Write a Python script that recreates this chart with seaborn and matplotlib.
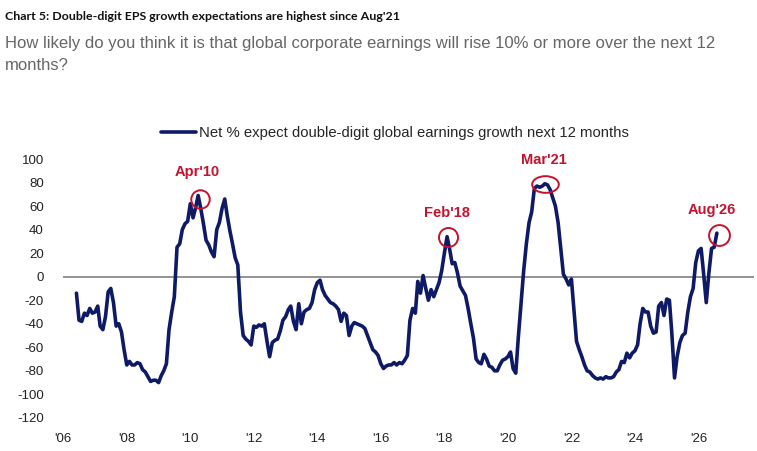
import matplotlib
matplotlib.use("Agg")
import matplotlib.pyplot as plt
import matplotlib.dates as mdates
import matplotlib.transforms as mtransforms
from matplotlib.path import Path
import seaborn as sns
import pandas as pd

# Net % expecting double-digit global EPS growth, monthly
start_month = "2006-06-01"
y2006 = [-14, -37, -38, -31, -33, -27, -31]
y2007 = [-30, -25, -42, -45, -34, -13, -10, -22, -42, -40, -47, -62]
y2008 = [-75, -72, -75, -75, -73, -74, -79, -81, -85, -89, -88, -88]
y2009 = [-90, -84, -80, -74, -45, -30, -17, 25, 28, 40, 45, 47]
y2010 = [62, 50, 58, 69, 58, 45, 31, 27, 21, 17, 40, 46]
y2011 = [58, 66, 52, 39, 28, 16, 10, -30, -50, -53, -55, -58]
y2012 = [-42, -43, -41, -42, -40, -55, -68, -56, -54, -53, -46, -37]
y2013 = [-34, -28, -25, -38, -45, -23, -40, -30, -28, -27, -22, -11]
y2014 = [-5, -3, -11, -16, -19, -22, -23, -25, -28, -38, -31, -33]
y2015 = [-50, -42, -39, -40, -41, -42, -44, -50, -56, -62, -64, -67]
y2016 = [-74, -78, -76, -75, -75, -73, -75, -73, -74, -71, -67, -37]
y2017 = [-27, -31, -4, -14, 1, -10, -20, -11, -17, -11, -5, 5]
y2018 = [20, 34, 24, 11, 12, 3, -8, -12, -16, -27, -40, -52]
y2019 = [-70, -73, -74, -66, -70, -76, -77, -80, -80, -75, -71, -70]
y2020 = [-68, -64, -78, -82, -51, -23, 5, 28, 46, 55, 75, 77]
y2021 = [76, 77, 79, 78, 74, 67, 60, 46, 24, 2, -2, -7]
y2022 = [-2, -30, -55, -62, -68, -75, -80, -81, -84, -86, -87, -86]
y2023 = [-87, -85, -86, -86, -85, -81, -79, -72, -73, -65, -69, -65]
y2024 = [-63, -58, -40, -27, -30, -30, -42, -48, -47, -25, -22, -33]
y2025 = [-19, -20, -48, -86, -68, -56, -50, -48, -30, -17, -10, 12]
y2026 = [22, 24, 3, -22, 3, 24, 25, 37]

# highlighted months
highlights = ["2010-04-01", "2018-02-01", "2021-03-01", "2026-08-01"]
highlight_labels = ["Apr'10", "Feb'18", "Mar'21", "Aug'26"]

series_label = "Net % expect double-digit global earnings growth next 12 months"
title = "Chart 5: Double-digit EPS growth expectations are highest since Aug'21"
subtitle = ("How likely do you think it is that global corporate earnings will rise 10% or more over the next 12\n"
            "months?")

values = (y2006 + y2007 + y2008 + y2009 + y2010 + y2011 + y2012 + y2013 + y2014 + y2015
          + y2016 + y2017 + y2018 + y2019 + y2020 + y2021 + y2022 + y2023 + y2024 + y2025 + y2026)
df = pd.DataFrame({"date": pd.date_range(start_month, periods=len(values), freq="MS"),
                   "value": values})

navy = "#0f1a66"
red = "#c4122f"

sns.set_style("white")
plt.rcParams["font.family"] = ["Liberation Sans", "DejaVu Sans"]
plt.rcParams["axes.unicode_minus"] = False

fig = plt.figure(figsize=(7.57, 4.51), dpi=100)
ax = fig.add_axes([63.3 / 757, 33.1 / 451, 690.6 / 757, 258.9 / 451])

sns.lineplot(data=df, x="date", y="value", color=navy, linewidth=2.6, ax=ax, label=series_label, legend=False)
ax.axhline(0, color="#808080", linewidth=1.2, zorder=1)

# Axes
ax.set_xlim(pd.Timestamp("2006-01-01"), pd.Timestamp("2027-10-01"))
ax.set_ylim(-120, 100)
ax.set_yticks(range(-120, 101, 20))
ax.xaxis.set_major_locator(mdates.YearLocator(2))
ax.xaxis.set_major_formatter(mdates.DateFormatter("'%y"))
ax.tick_params(axis="both", length=0, labelsize=9.5, colors="#222222")
ax.tick_params(axis="y", pad=14)
ax.tick_params(axis="x", pad=11)
ax.set_xlabel("")
ax.set_ylabel("")
sns.despine(ax=ax, left=True, bottom=True)

# Circles and labels on the highlighted months
circle = Path.unit_circle()
ellipse = circle.transformed(mtransforms.Affine2D().scale(1.6, 1.0))
markers = [(circle, 13.3, (1.3, -2.5)), (circle, 13.7, (1.0, 0.0)),
           (ellipse, 19.2, (0.0, 0.0)), (circle, 15.0, (1.4, -1.0))]
text_offsets = [(-0.7, 17), (0, 17), (-1, 17), (-3.7, 16.6)]
for day, lab, (mk, ms, off), toff in zip(highlights, highlight_labels, markers, text_offsets):
    d = pd.Timestamp(day)
    v = df.loc[df["date"] == d, "value"].iloc[0]
    shift = mtransforms.offset_copy(ax.transData, fig=fig, x=off[0], y=off[1], units="points")
    ax.plot([d], [v], marker=mk, markersize=ms, markerfacecolor="none",
            markeredgecolor=red, markeredgewidth=1.4, linestyle="none", transform=shift, clip_on=False)
    ax.annotate(lab, xy=(d, v), xytext=toff, textcoords="offset points",
                ha="center", va="center", color=red, fontsize=10.5, fontweight="bold")

# Legend
fig.legend(loc="center", bbox_to_anchor=(395 / 757, 1 - 133 / 451), frameon=False,
           fontsize=10.7, handlelength=2.3, handletextpad=0.2)

# Title block
fig.text(5 / 757, 1 - 17 / 451, title, ha="left", va="center", fontsize=8.9,
         fontweight="bold", color="#111111", family=["Lato", "Liberation Sans"])
fig.text(5 / 757, 1 - 36 / 451, subtitle, ha="left", va="top", fontsize=12,
         color="#666666", linespacing=1.55)

fig.savefig("out.png", dpi=100)
